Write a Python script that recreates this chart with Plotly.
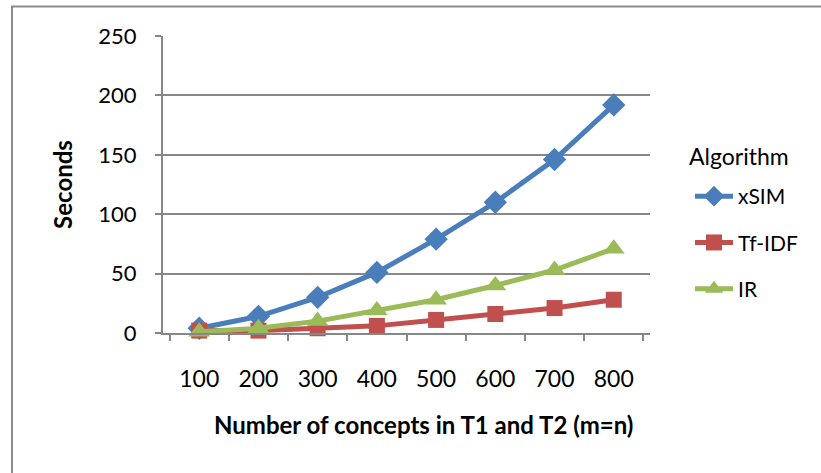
import plotly.graph_objects as go

categories = ["100", "200", "300", "400", "500", "600", "700", "800"]
xsim = [4, 14, 30, 51, 79, 110, 146, 192]
tfidf = [2, 2, 4, 6, 11, 16, 21, 28]
ir = [1, 4, 10, 19, 28, 40, 53, 71]
y_ticks = [0, 50, 100, 150, 200, 250]

W, H = 821, 473
L, R, T, B = 163, 171, 36, 140
pw, ph = W - L - R, H - T - B

FONT = "Lato, Open Sans, sans-serif"
GRID = "#878787"

fig = go.Figure()
series = [
    ("xSIM", xsim, "#4A7EBB", "diamond", 18),
    ("Tf-IDF", tfidf, "#C0504D", "square", 16),
    ("IR", ir, "#9BBB59", "triangle-up", 19),
]
for name, vals, col, sym, sz in series:
    fig.add_trace(go.Scatter(
        x=categories, y=vals, name=name, mode="lines+markers",
        legendgroup=name,
        line=dict(color=col, width=5),
        marker=dict(symbol=sym, size=sz, color=col),
        cliponaxis=False,
    ))

fig.update_layout(
    width=W, height=H,
    margin=dict(l=L, r=R, t=T, b=B),
    paper_bgcolor="white", plot_bgcolor="white",
    font=dict(family=FONT, size=22, color="#000000"),
    showlegend=True,
    legend=dict(
        x=(690 - L) / pw, y=(333 - 176) / ph,
        xanchor="left", yanchor="top",
        font=dict(size=21),
        tracegroupgap=16,
        itemwidth=38,
        bgcolor="rgba(0,0,0,0)",
    ),
    annotations=[
        dict(
            text="Algorithm", xref="paper", yref="paper",
            x=(687 - L) / pw, y=(333 - 156) / ph,
            xanchor="left", yanchor="middle", showarrow=False,
            font=dict(size=23),
        ),
        dict(
            text="<b>Number of concepts in T1 and T2 (m=n)</b>", xref="paper", yref="paper",
            x=(423 - L) / pw, y=(333 - 424) / ph,
            xanchor="center", yanchor="middle", showarrow=False,
            font=dict(size=24),
        ),
    ],
    xaxis=dict(
        type="category",
        showgrid=False,
        showline=True, linecolor=GRID, linewidth=2,
        ticks="outside", tickson="boundaries", ticklen=6, tickcolor=GRID, tickwidth=2,
        ticklabelstandoff=24,
        tickfont=dict(size=23),
        zeroline=False,
    ),
    yaxis=dict(
        range=[0, 250],
        tickvals=y_ticks,
        showgrid=True, gridcolor=GRID, gridwidth=2,
        showline=True, linecolor=GRID, linewidth=2,
        ticks="outside", ticklen=6, tickcolor=GRID, tickwidth=2,
        ticklabelstandoff=14,
        tickfont=dict(size=22),
        title=dict(text="<b>Seconds</b>", font=dict(size=24), standoff=19),
        zeroline=False,
    ),
    shapes=[dict(
        type="rect", xref="paper", yref="paper",
        x0=(12 - L) / pw, x1=(W + 20 - L) / pw,
        y0=(333 - (H + 20)) / ph, y1=(333 - 6.5) / ph,
        line=dict(color="#8A8A8A", width=2), fillcolor="rgba(0,0,0,0)",
        layer="below",
    )],
)

fig.write_html("out.html")
